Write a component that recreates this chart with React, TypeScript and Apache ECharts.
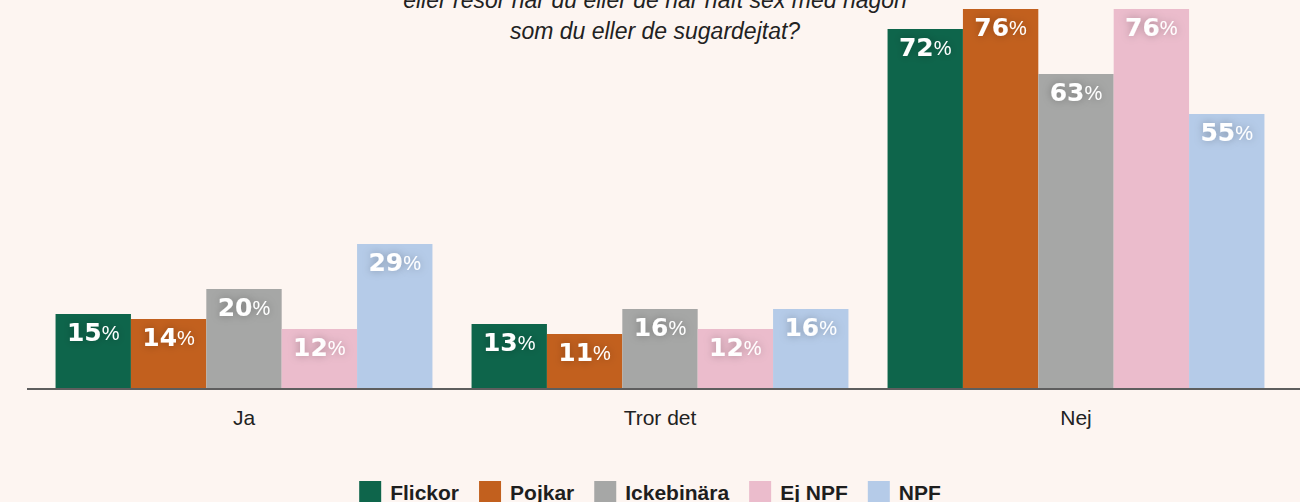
import React, { useEffect, useRef } from "react";
import * as echarts from "echarts";

const categories = ["Ja", "Tror det", "Nej"];
const seriesNames = ["Flickor", "Pojkar", "Ickebinära", "Ej NPF", "NPF"];
const flickor = [15, 13, 72];
const pojkar = [14, 11, 76];
const ickebinara = [20, 16, 63];
const ejNpf = [12, 12, 76];
const npf = [29, 16, 55];
const seriesValues = [flickor, pojkar, ickebinara, ejNpf, npf];
const colors = ["#0e654b", "#c2601e", "#a6a7a6", "#ebbccc", "#b5cbe8"];
const titleLines = [
  "eller resor när du eller de har haft sex med någon",
  "som du eller de sugardejtat?",
];

export default function App() {
  const ref = useRef<HTMLDivElement>(null);
  useEffect(() => {
    if (!ref.current) return;
    const chart = echarts.init(ref.current, undefined, { renderer: "svg" });
    const shadow = { textShadowColor: "rgba(0,0,0,0.28)", textShadowBlur: 8 };
    const option: any = {
      animation: false,
      backgroundColor: "#fdf5f1",
      grid: { left: 36, right: 16, top: 9, bottom: 113, containLabel: false },
      legend: {
        top: 476,
        left: "center",
        icon: "rect",
        itemWidth: 22,
        itemHeight: 22,
        itemGap: 20,
        data: seriesNames,
        textStyle: {
          fontFamily: "Liberation Sans",
          fontWeight: "bold",
          fontSize: 21,
          color: "#1e1e1e",
          padding: [0, 0, 0, 4],
        },
      },
      xAxis: {
        type: "category",
        data: categories,
        axisLine: { show: false },
        axisTick: { show: false },
        axisLabel: {
          margin: 18,
          fontFamily: "Liberation Sans",
          fontSize: 21,
          color: "#222",
        },
      },
      yAxis: {
        type: "value",
        min: 0,
        max: 76,
        show: false,
        splitLine: { show: false },
      },
      graphic: [
        {
          type: "line",
          shape: { x1: 27, y1: 389, x2: 1300, y2: 389 },
          style: { stroke: "#5e5e5e", lineWidth: 2 },
          z: 10,
        },
        {
          type: "text",
          x: 655,
          y: -16,
          style: {
            text: titleLines.join("\n"),
            align: "center",
            verticalAlign: "top",
            font: "italic 23px 'Liberation Sans'",
            lineHeight: 31,
            fill: "#222",
          },
        },
      ],
      series: seriesNames.map((name, i) => ({
        name,
        type: "bar",
        data: seriesValues[i],
        barGap: "0%",
        barCategoryGap: "9.4%",
        itemStyle: { color: colors[i] },
        label: {
          show: true,
          position: "insideTop",
          distance: 5,
          formatter: (p: any) => `{a|${p.value}}{b|%}`,
          color: "#fff",
          ...shadow,
          rich: {
            a: {
              fontFamily: "DejaVu Sans",
              fontWeight: "bold",
              fontSize: 25,
              lineHeight: 27,
              color: "#fff",
              ...shadow,
            },
            b: {
              fontFamily: "Liberation Sans",
              fontWeight: "normal",
              fontSize: 20,
              lineHeight: 27,
              color: "#fff",
              ...shadow,
            },
          },
        },
      })),
    };
    chart.setOption(option);
    return () => chart.dispose();
  }, []);
  return (
    <div
      ref={ref}
      style={{
        position: "fixed",
        left: 0,
        top: 0,
        width: 1300,
        height: 502,
        background: "#fdf5f1",
      }}
    />
  );
}
